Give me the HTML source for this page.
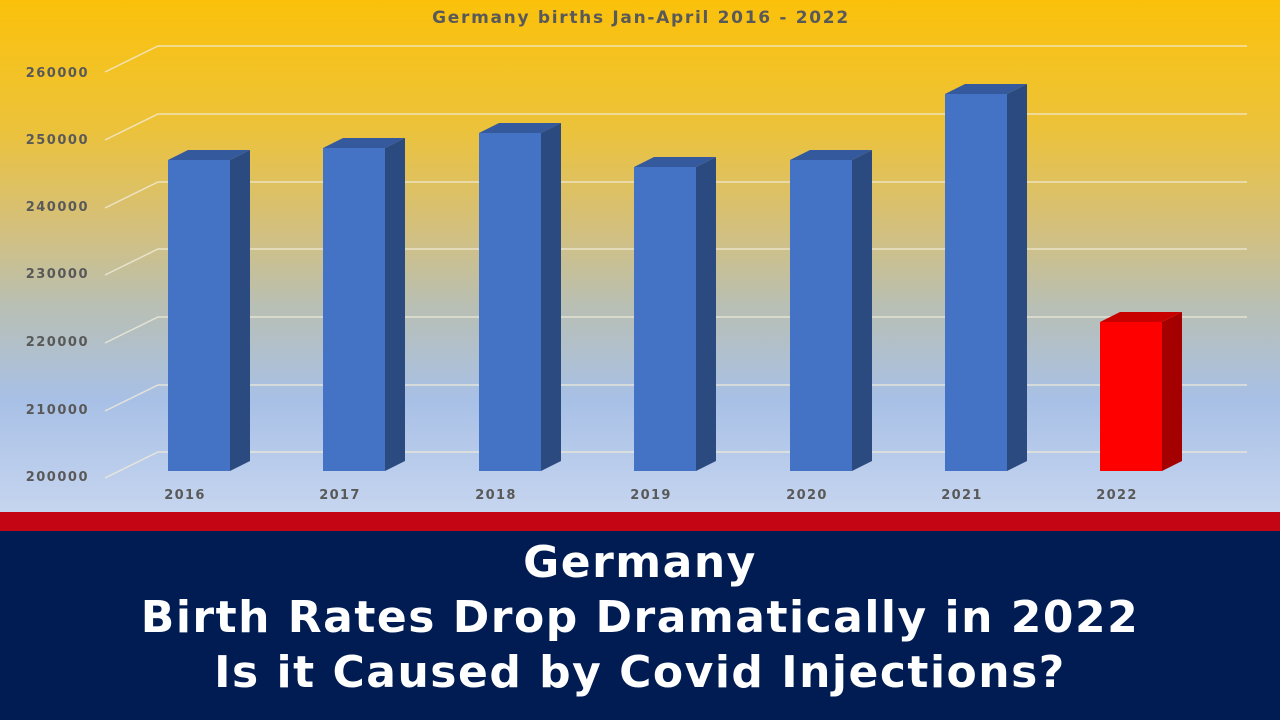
<!DOCTYPE html>
<html><head><meta charset="utf-8"><style>
body{margin:0;width:1280px;height:720px;overflow:hidden;font-family:"DejaVu Sans",sans-serif}
#c{position:absolute;left:0;top:0;width:1280px;height:512px;background:linear-gradient(#fbc10a 0%,#ecc23a 25%,#d3c07e 45%,#b8bfb4 60%,#a8c0e6 78%,#c6d5ef 100%)}
#red{position:absolute;left:0;top:512px;width:1280px;height:19px;background:#c40513}
#nav{position:absolute;left:0;top:531px;width:1280px;height:189px;background:#001c53;color:#fff;font-weight:bold;font-size:44px;text-align:center;line-height:55px;padding-top:4px;box-sizing:border-box;letter-spacing:1.5px;font-family:"DejaVu Sans",sans-serif}
</style></head><body>
<div id="c">
<svg width="1280" height="512" style="position:absolute;left:0;top:0">
<text x="641" y="23" text-anchor="middle" font-size="17" font-weight="bold" fill="#595959" font-family="DejaVu Sans" letter-spacing="1.7">Germany births Jan-April  2016 - 2022</text>
<g stroke="#f2ecd8" stroke-width="1.5" fill="none" opacity="0.8">
<polyline points="105,72 158,46 1247,46"/>
<polyline points="105,140 158,114 1247,114"/>
<polyline points="105,208 158,182 1247,182"/>
<polyline points="105,275 158,249 1247,249"/>
<polyline points="105,343 158,317 1247,317"/>
<polyline points="105,411 158,385 1247,385"/>
<polyline points="105,478 158,452 1247,452"/>
</g>
<g font-size="13" font-weight="bold" fill="#595959" font-family="DejaVu Sans" text-anchor="end" letter-spacing="1.5">
<text x="89" y="77">260000</text><text x="89" y="144">250000</text><text x="89" y="211">240000</text>
<text x="89" y="278">230000</text><text x="89" y="346">220000</text><text x="89" y="414">210000</text><text x="89" y="481">200000</text>
</g>
<g id="bars"></g>
<g font-size="13" font-weight="bold" fill="#595959" font-family="DejaVu Sans" text-anchor="middle" letter-spacing="1.3">
<text x="185" y="499">2016</text><text x="340" y="499">2017</text><text x="496" y="499">2018</text><text x="651" y="499">2019</text><text x="807" y="499">2020</text><text x="962" y="499">2021</text><text x="1117" y="499">2022</text>
</g>
</svg>
</div>
<div id="red"></div>
<div id="nav">Germany<br>Birth Rates Drop Dramatically in 2022<br>Is it Caused by Covid Injections?</div>
<script>
var xs=[168,323,479,634,790,945,1100],ts=[160,148,133,167,160,94,322],g=document.getElementById('bars'),h='';
for(var i=0;i<7;i++){var x=xs[i],t=ts[i],r=i==6;
var f=r?'#ff0000':'#4472c4',s=r?'#a50000':'#2a4a80',tp=r?'#c80000':'#34599c';
h+='<polygon points="'+(x+62)+','+t+' '+(x+82)+','+(t-10)+' '+(x+82)+',461 '+(x+62)+',471" fill="'+s+'"/>';
h+='<polygon points="'+x+','+t+' '+(x+20)+','+(t-10)+' '+(x+82)+','+(t-10)+' '+(x+62)+','+t+'" fill="'+tp+'"/>';
h+='<rect x="'+x+'" y="'+t+'" width="62" height="'+(471-t)+'" fill="'+f+'"/>';}
g.innerHTML=h;
</script>
</body></html>
